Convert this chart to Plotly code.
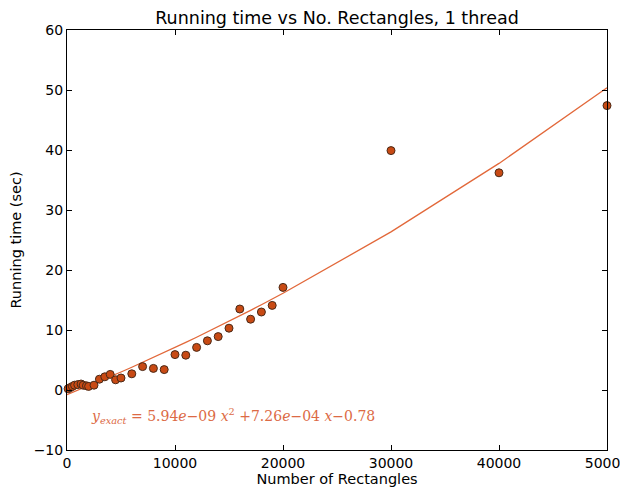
import plotly.graph_objects as go

n_rect = [100, 300, 500, 700, 1000, 1300, 1500, 1800, 2000, 2500,
          3000, 3500, 4000, 4500, 5000, 6000, 7000, 8000, 9000, 10000,
          11000, 12000, 13000, 14000, 15000, 16000, 17000, 18000, 19000, 20000,
          30000, 40000, 50000]
run_time = [0.2, 0.4, 0.6, 0.8, 0.9, 1.0, 0.8, 0.7, 0.6, 0.8,
            1.8, 2.2, 2.6, 1.7, 2.0, 2.7, 3.9, 3.6, 3.4, 5.9,
            5.8, 7.1, 8.2, 8.9, 10.3, 13.5, 11.8, 13.0, 14.1, 17.1,
            39.9, 36.2, 47.4]
fit_a, fit_b, fit_c = 5.94e-09, 7.26e-04, -0.78
fit_x = [0] + n_rect
fit_y = [fit_a * x * x + fit_b * x + fit_c for x in fit_x]

x_ticks = [0, 10000, 20000, 30000, 40000, 50000]
y_ticks = [-10, 0, 10, 20, 30, 40, 50, 60]

fig = go.Figure()
fig.add_trace(go.Scatter(x=fit_x, y=fit_y, mode="lines",
                         line=dict(color="#E2683A", width=1.3), showlegend=False,
                         cliponaxis=False))
fig.add_trace(go.Scatter(x=n_rect, y=run_time, mode="markers",
                         marker=dict(color="#C84A14", size=8,
                                     line=dict(color="#4a2a18", width=1)),
                         showlegend=False, cliponaxis=False))

fig.add_annotation(x=2000, y=-4.3, xref="x", yref="y", xanchor="left", yanchor="middle",
                   showarrow=False,
                   text="<i>y</i><sub><i>exact</i></sub> = 5.94<i>e</i>\u221209 <i>x</i><sup>2</sup> +7.26<i>e</i>\u221204 <i>x</i>\u22120.78",
                   font=dict(family="DejaVu Serif", size=14, color="#DC6A45"))

axis_common = dict(showgrid=False, zeroline=False, showline=True, linecolor="black",
                   linewidth=1, mirror="ticks", ticks="inside", ticklen=5,
                   tickcolor="black", tickfont=dict(size=14, color="black"),
                   automargin=False, ticklabeloverflow="allow")

fig.update_layout(
    width=620, height=479,
    margin=dict(l=59, r=21, t=22, b=37),
    paper_bgcolor="white", plot_bgcolor="white",
    font=dict(family="DejaVu Sans", color="black"),
    title=dict(text="Running time vs No. Rectangles, 1 thread", x=0.5, xref="paper",
               xanchor="center", y=0.979, yanchor="middle", font=dict(size=17.5)),
    xaxis=dict(range=[0, 50000], tickvals=x_ticks, ticktext=[str(v) for v in x_ticks],
               title=dict(text="Number of Rectangles", font=dict(size=14.5), standoff=4),
               **axis_common),
    yaxis=dict(range=[-10, 60], tickvals=y_ticks,
               ticktext=[str(v).replace("-", "\u2212") for v in y_ticks],
               title=dict(text="Running time (sec)", font=dict(size=14.5), standoff=8),
               **axis_common),
)

fig.write_html("out.html")
